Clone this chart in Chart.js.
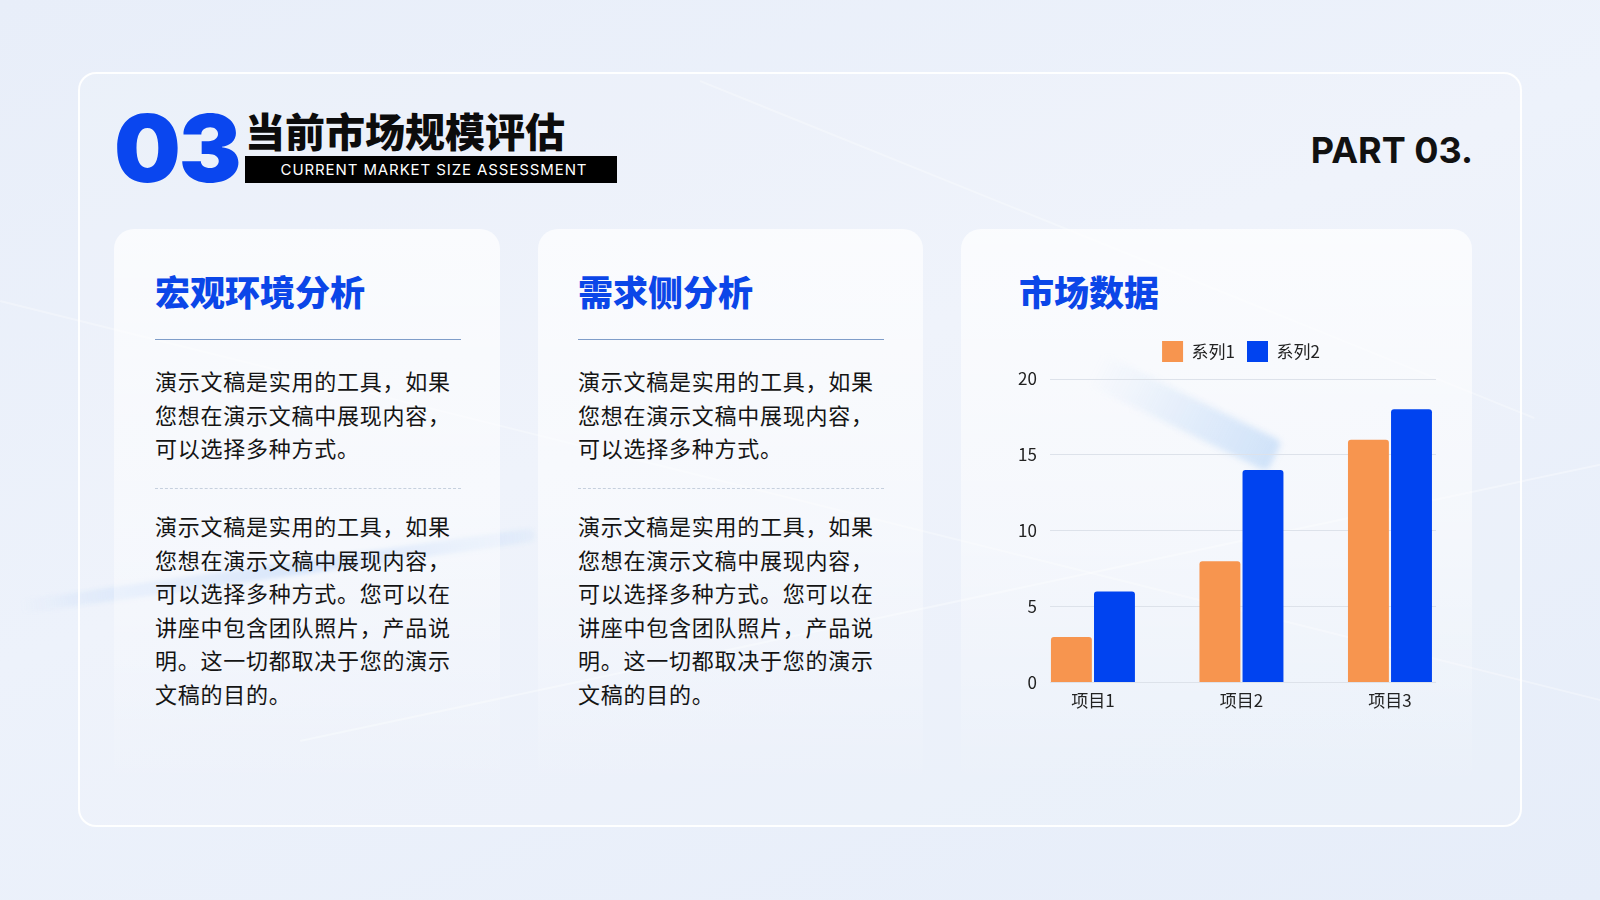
<!DOCTYPE html>
<html lang="zh-CN">
<head>
<meta charset="utf-8">
<title>当前市场规模评估</title>
<script src="https://cdn.jsdelivr.net/npm/chart.js@4.4.1/dist/chart.umd.min.js"></script>
<style>
  html, body { margin: 0; padding: 0; }
  body {
    width: 1600px; height: 900px; overflow: hidden;
    font-family: "Noto Sans CJK SC", "Noto Sans", sans-serif;
    background: linear-gradient(160deg, #e8eef9 0%, #edf2fb 45%, #e6edf9 100%);
  }
  #page { position: relative; width: 1600px; height: 900px; overflow: hidden; }
  .abs { position: absolute; }

  /* soft light beams in the background */
  .beam { position: absolute; transform-origin: left center; border-radius: 6px; }
  .b1 { left: 20px; top: 600px; width: 520px; height: 14px; transform: rotate(-8deg);
        background: linear-gradient(90deg, rgba(120,170,245,0) 0%, rgba(120,170,245,.45) 55%, rgba(140,185,245,.1) 100%); filter: blur(2px); }
  .b2 { left: 1095px; top: 352px; width: 200px; height: 34px; transform: rotate(26deg);
        background: linear-gradient(90deg, rgba(170,205,245,.0), rgba(170,205,245,.5)); filter: blur(3px); }
  .b3 { left: 0; top: 300px; width: 1700px; height: 2px; transform: rotate(14deg);
        background: rgba(255,255,255,.3); }
  .b4 { left: 300px; top: 740px; width: 1400px; height: 2px; transform: rotate(-12deg);
        background: rgba(255,255,255,.35); }
  .b5 { left: 700px; top: 80px; width: 900px; height: 2px; transform: rotate(22deg);
        background: rgba(255,255,255,.3); }

  .frame {
    left: 78px; top: 72px; width: 1440px; height: 751px;
    border: 2px solid rgba(255,255,255,.95); border-radius: 18px;
    background: rgba(255,255,255,.12);
  }
  .big-num {
    left: 114px; top: 101px; font-family: Inter, "Open Sans", sans-serif;
    font-weight: 900; font-size: 94px; line-height: 94px; color: #0a46ef; letter-spacing: -2px;
  }
  .title {
    left: 245px; top: 109px; font-size: 40px; line-height: 42px; font-weight: 900; color: #0c0c0c;
    white-space: nowrap;
  }
  .subbar {
    left: 245px; top: 156px; width: 372px; height: 27px; background: #000; color: #fff;
    font-family: Inter, "Open Sans", sans-serif; font-weight: 400; font-size: 15px;
    line-height: 27px; text-align: center; letter-spacing: .9px; padding-left: 6px; box-sizing: border-box;
    white-space: nowrap;
  }
  .part {
    right: 127px; top: 132px; font-family: Inter, "Open Sans", sans-serif; font-weight: 700;
    font-size: 36px; line-height: 36px; color: #111;
  }
  .card {
    top: 229px; height: 560px; border-radius: 20px;
    background: linear-gradient(180deg, rgba(255,255,255,.72) 0%, rgba(255,255,255,.45) 55%, rgba(255,255,255,0) 100%);
  }
  .c1 { left: 114px; width: 386px; }
  .c2 { left: 538px; width: 385px; }
  .c3 { left: 961px; width: 511px; }
  .h {
    top: 272px; font-size: 35px; line-height: 38px; font-weight: 900; color: #0b46e8; white-space: nowrap;
  }
  .rule { top: 339px; width: 306px; height: 1px; background: #7f9dc9; }
  .dash { top: 488px; width: 306px; height: 0; border-top: 1px dashed #c6d0de; }
  .p {
    font-size: 22px; line-height: 33.5px; letter-spacing: .75px; color: #141414; white-space: nowrap;
  }
  .p1 { top: 364px; }
  .p2 { top: 509px; }
  .chart-box { left: 985px; top: 329px; width: 500px; height: 382px; }
</style>
</head>
<body>
<div id="page">
  <div class="beam b3"></div>
  <div class="beam b4"></div>
  <div class="beam b5"></div>
  <div class="beam b1"></div>

  <div class="abs frame"></div>

  <div class="abs big-num">03</div>
  <div class="abs title">当前市场规模评估</div>
  <div class="abs subbar">CURRENT MARKET SIZE ASSESSMENT</div>
  <div class="abs part">PART 03.</div>

  <div class="abs card c1"></div>
  <div class="abs card c2"></div>
  <div class="abs card c3"></div>
  <div class="beam b2"></div>

  <!-- 左侧卡片 -->
  <div class="abs h" style="left:155px">宏观环境分析</div>
  <div class="abs rule" style="left:155px"></div>
  <div class="abs p p1" style="left:155px">演示文稿是实用的工具，如果<br>您想在演示文稿中展现内容，<br>可以选择多种方式。</div>
  <div class="abs dash" style="left:155px"></div>
  <div class="abs p p2" style="left:155px">演示文稿是实用的工具，如果<br>您想在演示文稿中展现内容，<br>可以选择多种方式。您可以在<br>讲座中包含团队照片，产品说<br>明。这一切都取决于您的演示<br>文稿的目的。</div>

  <!-- 中间卡片 -->
  <div class="abs h" style="left:578px">需求侧分析</div>
  <div class="abs rule" style="left:578px"></div>
  <div class="abs p p1" style="left:578px">演示文稿是实用的工具，如果<br>您想在演示文稿中展现内容，<br>可以选择多种方式。</div>
  <div class="abs dash" style="left:578px"></div>
  <div class="abs p p2" style="left:578px">演示文稿是实用的工具，如果<br>您想在演示文稿中展现内容，<br>可以选择多种方式。您可以在<br>讲座中包含团队照片，产品说<br>明。这一切都取决于您的演示<br>文稿的目的。</div>

  <!-- 右侧卡片：图表 -->
  <div class="abs h" style="left:1019px">市场数据</div>
  <div class="abs chart-box"><canvas id="barChart"></canvas></div>
</div>

<script>
// 차트 데이터
const categories = ["项目1", "项目2", "项目3"];
const seriesNames = ["系列1", "系列2"];
const series1 = [3, 8, 16];
const series2 = [6, 14, 18];
const yMax = 20;
const yStep = 5;

const seriesColors = ["#F7954F", "#0043F0"];

Chart.defaults.font.family = "'Noto Sans CJK SC', 'Noto Sans', sans-serif";
Chart.defaults.color = "#222";

// 항목 인덱스를 x 위치로 사용한다
const toPoints = (values) => values.map((v, i) => ({ x: i, y: v }));

// 범례 아래 여백을 조금 늘린다
const legendGap = {
  id: "legendGap",
  beforeInit(chart) {
    const fit = chart.legend.fit;
    chart.legend.fit = function () {
      fit.call(this);
      this.height += 7;
    };
  },
};

const barData = {
  datasets: [
    {
      label: seriesNames[0],
      data: toPoints(series1),
      backgroundColor: seriesColors[0],
      borderRadius: 3,
      borderSkipped: "bottom",
    },
    {
      label: seriesNames[1],
      data: toPoints(series2),
      backgroundColor: seriesColors[1],
      borderRadius: 3,
      borderSkipped: "bottom",
    },
  ],
};

new Chart(document.querySelector("#barChart"), {
  type: "bar",
  data: barData,
  plugins: [legendGap],
  options: {
    responsive: true,
    maintainAspectRatio: false,
    animation: false,
    categoryPercentage: 0.58,
    barPercentage: 0.95,
    layout: { padding: { left: 20, right: 8, top: 0, bottom: 0 } },
    plugins: {
      legend: {
        position: "top",
        labels: {
          boxWidth: 21,
          boxHeight: 21,
          padding: 12,
          font: { size: 17 },
          color: "#222",
        },
      },
      tooltip: { enabled: false },
    },
    scales: {
      x: {
        type: "linear",
        offset: false,
        min: -0.29,
        max: 2.31,
        grid: { display: false },
        border: { display: false },
        ticks: {
          stepSize: 1,
          includeBounds: false,
          padding: 0,
          font: { size: 17 },
          color: "#222",
          callback: (v) => categories[v] || "",
        },
      },
      y: {
        min: 0,
        max: yMax,
        grid: { color: "#dde2ea", drawTicks: false },
        border: { display: false },
        ticks: { stepSize: yStep, padding: 13, font: { size: 17 }, color: "#222" },
      },
      // 범례를 가운데로 맞추기 위한 빈 축
      yPad: {
        position: "right",
        display: true,
        grid: { display: false },
        border: { display: false },
        ticks: { display: false },
        afterFit: (scale) => { scale.width = 41; },
      },
    },
  },
});
</script>
</body>
</html>
